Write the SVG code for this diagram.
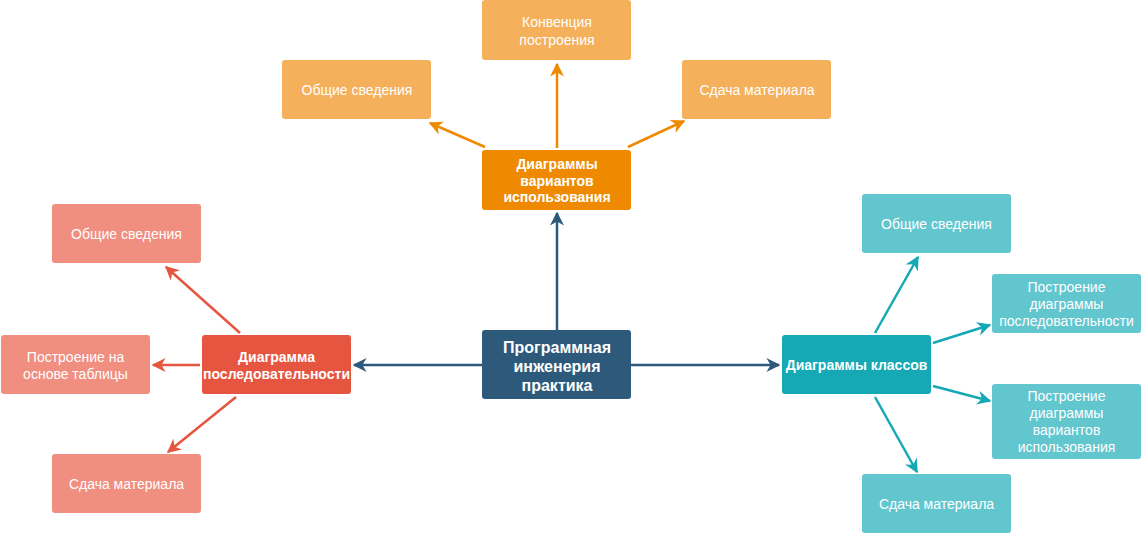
<svg xmlns="http://www.w3.org/2000/svg" width="1141" height="534" viewBox="0 0 1141 534">
<defs>
<style>
text{font-family:"Liberation Sans",Arial,sans-serif;fill:#fff;text-anchor:middle;dominant-baseline:central}
.t{font-size:14px}
.b{font-size:14px;font-weight:bold}
.c{font-size:16px;font-weight:bold}
.ln{stroke-width:2.5;fill:none}
</style>
<marker id="aN" viewBox="0 0 10 10" refX="9" refY="5" markerWidth="14" markerHeight="14" markerUnits="userSpaceOnUse" orient="auto"><path d="M0,0 L10,5 L0,10 L3,5 z" fill="#2D5A7B"/></marker>
<marker id="aO" viewBox="0 0 10 10" refX="9" refY="5" markerWidth="14" markerHeight="14" markerUnits="userSpaceOnUse" orient="auto"><path d="M0,0 L10,5 L0,10 L3,5 z" fill="#EF8A00"/></marker>
<marker id="aR" viewBox="0 0 10 10" refX="9" refY="5" markerWidth="14" markerHeight="14" markerUnits="userSpaceOnUse" orient="auto"><path d="M0,0 L10,5 L0,10 L3,5 z" fill="#E65540"/></marker>
<marker id="aT" viewBox="0 0 10 10" refX="9" refY="5" markerWidth="14" markerHeight="14" markerUnits="userSpaceOnUse" orient="auto"><path d="M0,0 L10,5 L0,10 L3,5 z" fill="#14A9B5"/></marker>
</defs>
<g id="connectors">
<line class="ln" stroke="#2D5A7B" x1="557" y1="330" x2="557" y2="213" marker-end="url(#aN)"/>
<line class="ln" stroke="#2D5A7B" x1="482" y1="365" x2="354" y2="365" marker-end="url(#aN)"/>
<line class="ln" stroke="#2D5A7B" x1="631" y1="365" x2="779" y2="365" marker-end="url(#aN)"/>
<line class="ln" stroke="#EF8A00" x1="557" y1="148" x2="557" y2="64" marker-end="url(#aO)"/>
<line class="ln" stroke="#EF8A00" x1="485" y1="147" x2="430" y2="123" marker-end="url(#aO)"/>
<line class="ln" stroke="#EF8A00" x1="628" y1="147" x2="684" y2="121" marker-end="url(#aO)"/>
<line class="ln" stroke="#E65540" x1="240" y1="333" x2="166" y2="267" marker-end="url(#aR)"/>
<line class="ln" stroke="#E65540" x1="200" y1="365" x2="153" y2="365" marker-end="url(#aR)"/>
<line class="ln" stroke="#E65540" x1="236" y1="397" x2="168" y2="452" marker-end="url(#aR)"/>
<line class="ln" stroke="#14A9B5" x1="875" y1="333" x2="918" y2="257" marker-end="url(#aT)"/>
<line class="ln" stroke="#14A9B5" x1="933" y1="343" x2="990" y2="325" marker-end="url(#aT)"/>
<line class="ln" stroke="#14A9B5" x1="933" y1="386" x2="990" y2="401" marker-end="url(#aT)"/>
<line class="ln" stroke="#14A9B5" x1="875" y1="397" x2="917" y2="472" marker-end="url(#aT)"/>
</g>
<g id="center"><rect x="482" y="330" width="149" height="69" rx="3" fill="#2D5A7B"/>
<text class="c" x="557" y="347">Программная</text><text class="c" x="557" y="366">инженерия</text><text class="c" x="557" y="385">практика</text></g>
<g id="usecase"><rect x="482" y="150" width="149" height="60" rx="3" fill="#EF8A00"/>
<text class="b" x="557" y="164">Диаграммы</text><text class="b" x="557" y="180.5">вариантов</text><text class="b" x="557" y="197">использования</text></g>
<g id="uc-conv"><rect x="482" y="0" width="149" height="60" rx="3" fill="#F4B05B"/>
<text class="t" x="557" y="22">Конвенция</text><text class="t" x="557" y="40">построения</text></g>
<g id="uc-general"><rect x="282" y="60" width="149" height="59" rx="3" fill="#F4B05B"/>
<text class="t" x="357" y="90">Общие сведения</text></g>
<g id="uc-submit"><rect x="682" y="60" width="149" height="59" rx="3" fill="#F4B05B"/>
<text class="t" x="757" y="90">Сдача материала</text></g>
<g id="sequence"><rect x="202" y="335" width="149" height="59" rx="3" fill="#E65540"/>
<text class="b" x="276.5" y="357">Диаграмма</text><text class="b" x="276.5" y="374">последовательности</text></g>
<g id="seq-general"><rect x="52" y="204" width="149" height="59" rx="3" fill="#F08E80"/>
<text class="t" x="126.5" y="234">Общие сведения</text></g>
<g id="seq-table"><rect x="1" y="335" width="149" height="59" rx="3" fill="#F08E80"/>
<text class="t" x="75.5" y="357">Построение на</text><text class="t" x="75.5" y="374">основе таблицы</text></g>
<g id="seq-submit"><rect x="52" y="454" width="149" height="59" rx="3" fill="#F08E80"/>
<text class="t" x="126.5" y="484">Сдача материала</text></g>
<g id="classes"><rect x="782" y="335" width="149" height="59" rx="3" fill="#14A9B5"/>
<text class="b" x="856.5" y="365">Диаграммы классов</text></g>
<g id="cl-general"><rect x="862" y="194" width="149" height="59" rx="3" fill="#62C6CF"/>
<text class="t" x="936.5" y="224">Общие сведения</text></g>
<g id="cl-seq"><rect x="992" y="274" width="149" height="59" rx="3" fill="#62C6CF"/>
<text class="t" x="1066.5" y="287">Построение</text><text class="t" x="1066.5" y="304">диаграммы</text><text class="t" x="1066.5" y="321">последовательности</text></g>
<g id="cl-uc"><rect x="992" y="384" width="149" height="75" rx="3" fill="#62C6CF"/>
<text class="t" x="1066.5" y="396">Построение</text><text class="t" x="1066.5" y="413">диаграммы</text><text class="t" x="1066.5" y="430">вариантов</text><text class="t" x="1066.5" y="447">использования</text></g>
<g id="cl-submit"><rect x="862" y="474" width="149" height="59" rx="3" fill="#62C6CF"/>
<text class="t" x="936.5" y="504">Сдача материала</text></g>
</svg>
